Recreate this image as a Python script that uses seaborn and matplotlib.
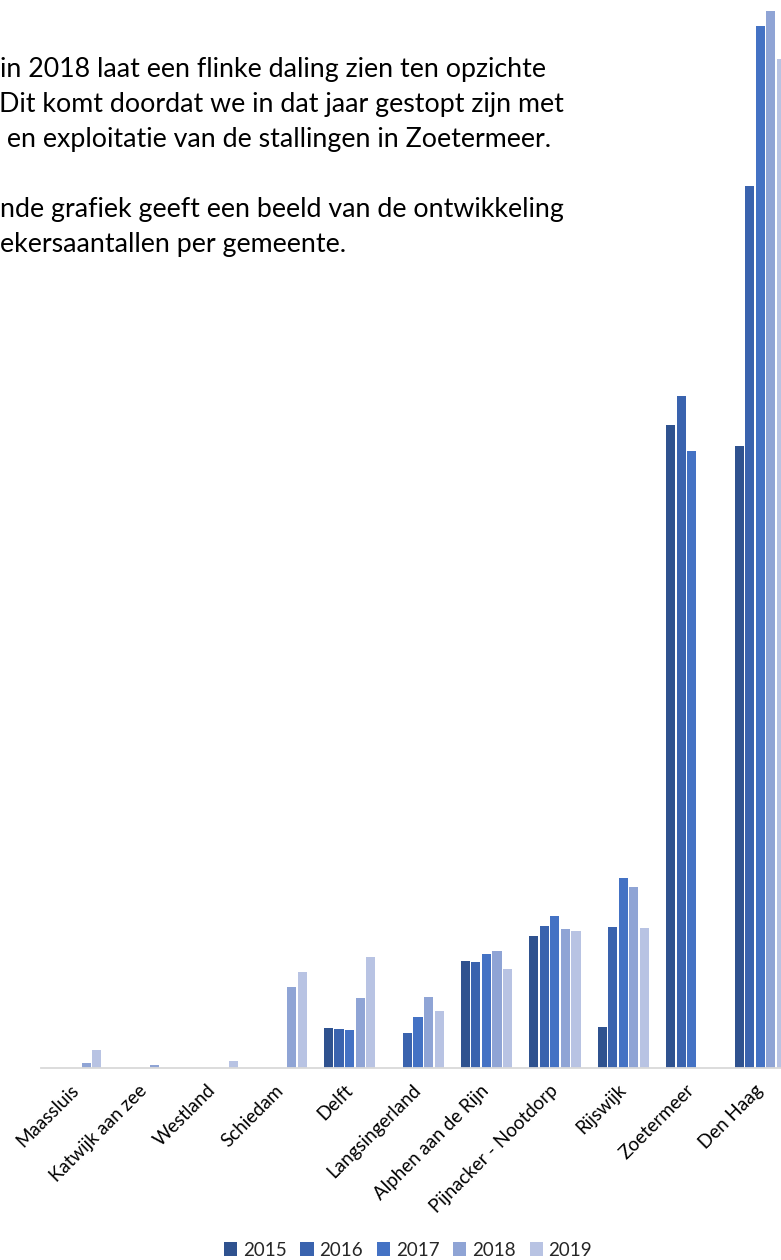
import seaborn as sns
import pandas as pd
import matplotlib.pyplot as plt

sns.set_style('white')
plt.rcParams['font.family'] = ['Lato', 'DejaVu Sans']

# data (relative heights, no y axis in the original)
gemeenten = ['Maassluis', 'Katwijk aan zee', 'Westland', 'Schiedam', 'Delft',
             'Langsingerland', 'Alphen aan de Rijn', 'Pijnacker - Nootdorp',
             'Rijswijk', 'Zoetermeer', 'Den Haag']
jaren = ['2015', '2016', '2017', '2018', '2019']
v2015 = [0, 0, 0, 0, 40, 0, 107, 132, 41, 643, 622]
v2016 = [0, 0, 0, 0, 39, 35, 106, 142, 141, 672, 882]
v2017 = [0, 0, 0, 0, 38, 51, 114, 152, 190, 617, 1042]
v2018 = [5, 3, 0, 81, 70, 71, 117, 139, 181, 0, 1057]
v2019 = [18, 0, 7, 96, 111, 57, 99, 137, 140, 0, 1009]
kleuren = ['#2F528F', '#3A63AE', '#4472C4', '#8FA4D5', '#B8C3E3']

tekst = ['in 2018 laat een flinke daling zien ten opzichte',
         'Dit komt doordat we in dat jaar gestopt zijn met',
         ' en exploitatie van de stallingen in Zoetermeer.',
         'nde grafiek geeft een beeld van de ontwikkeling',
         'ekersaantallen per gemeente.']

df = pd.DataFrame({'gemeente': gemeenten * 5,
                   'jaar': [j for j in jaren for _ in gemeenten],
                   'aantal': v2015 + v2016 + v2017 + v2018 + v2019})

fig = plt.figure(figsize=(7.81, 12.6), dpi=100)
ax = fig.add_axes([41.5 / 781, 1 - 1068 / 1260, 753 / 781, 1068 / 1260])
sns.barplot(data=df, x='gemeente', y='aantal', hue='jaar', palette=kleuren,
            saturation=1, width=0.77, gap=0.14, linewidth=0, ax=ax)
ax.set_ylim(0, 1068)
ax.set_xlim(-0.5, 10.5)
ax.set_xlabel('')
ax.set_ylabel('')
ax.set_yticks([])
sns.despine(ax=ax, left=True)
ax.spines['bottom'].set_color('#D9D9D9')
ax.spines['bottom'].set_linewidth(1.3)
ax.tick_params(axis='x', length=0, pad=14, labelsize=13.5, colors='#000000')
plt.setp(ax.get_xticklabels(), rotation=45, ha='right', va='center',
         rotation_mode='anchor')

# legend under the chart
handles, labels = ax.get_legend_handles_labels()
ax.get_legend().remove()
fig.legend(handles, labels, loc='center', bbox_to_anchor=(408 / 781, 1 - 1250 / 1260),
           ncol=5, frameon=False, fontsize=13.5, handlelength=0.7, handleheight=0.7,
           handletextpad=0.3, columnspacing=0.75)

# text of the page above the chart (cut off at the left)
regels_y = [77, 112, 147, 217, 252]
regels_x = [0, -1, 0, 0, 0]
for t, x, y in zip(tekst, regels_x, regels_y):
    fig.text(x / 781, 1 - y / 1260, t, ha='left', va='baseline', fontsize=19.3, color='#000000')

plt.savefig('out.png', dpi=100)
